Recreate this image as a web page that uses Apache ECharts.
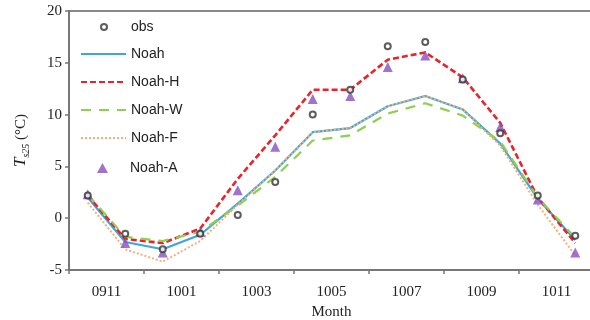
<!DOCTYPE html>
<html>
<head>
<meta charset="utf-8">
<script src="https://cdn.jsdelivr.net/npm/echarts@6/dist/echarts.min.js"></script>
<style>html,body{margin:0;padding:0;background:#fff}#c{width:590px;height:320px}</style>
</head>
<body>
<div id="c"></div>
<script>
var months = ['0910','0911','0912','1001','1002','1003','1004','1005','1006','1007','1008','1009','1010','1011'];
var tickLabels = ['0911','1001','1003','1005','1007','1009','1011'];
var obs   = [2.2, -1.5, -3.0, -1.5, 0.3, 3.5, 10.0, 12.4, 16.6, 17.0, 13.4, 8.2, 2.2, -1.7];
var noah  = [2.0, -2.3, -3.0, -1.6, 1.4, 4.6, 8.3, 8.7, 10.8, 11.8, 10.5, 7.2, 1.9, -2.1];
var noahH = [2.2, -2.0, -2.4, -1.0, 3.8, 8.0, 12.4, 12.4, 15.3, 16.0, 13.6, 9.2, 2.0, -2.4];
var noahW = [2.3, -1.8, -2.2, -1.3, 1.2, 4.0, 7.5, 8.0, 10.1, 11.1, 9.9, 7.4, 2.0, -1.9];
var noahF = [1.5, -3.0, -4.2, -2.2, 1.3, 4.6, 8.3, 8.7, 10.8, 11.8, 10.5, 7.0, 1.3, -3.6];
var noahA = [2.3, -2.4, -3.3, -1.3, 2.7, 6.9, 11.5, 11.8, 14.6, 15.7, 13.5, 8.8, 1.8, -3.3];

var serif = '"Liberation Serif", "DejaVu Serif", serif';
var sans = '"Liberation Sans", Arial, sans-serif';
var chart = echarts.init(document.getElementById('c'), null, {renderer: 'canvas'});
var legendText = {fontFamily: sans, fontSize: 14, color: '#222'};
chart.setOption({
  animation: false,
  backgroundColor: '#fff',
  grid: {left: 69, top: 11, width: 525, height: 259, show: true, borderColor: '#8a8a8a', borderWidth: 2,
         backgroundColor: 'transparent', containLabel: false, outerBoundsMode: 'none'},
  legend: [
    {data: ['obs'], orient: 'vertical', left: 100, top: 20, padding: 0, itemWidth: 6, itemHeight: 6,
     textStyle: {fontFamily: sans, fontSize: 14, color: '#222', padding: [0, 0, 0, 19]}},
    {data: ['Noah', 'Noah-H', 'Noah-W', 'Noah-F'], orient: 'vertical', left: 80, top: 47, padding: 0, itemWidth: 45, itemHeight: 14, itemGap: 14,
     itemStyle: {opacity: 0, borderWidth: 0}, textStyle: legendText},
    {data: [{name: 'Noah-A', icon: 'triangle'}], orient: 'vertical', left: 97, top: 161, padding: 0, itemWidth: 11, itemHeight: 10,
     textStyle: {fontFamily: sans, fontSize: 14, color: '#222', padding: [0, 0, 0, 17]}}
  ],
  xAxis: [
    {type: 'category', data: months, boundaryGap: true, show: false},
    {type: 'category', data: tickLabels, boundaryGap: true, position: 'bottom',
     name: 'Month', nameLocation: 'middle', nameGap: 35,
     nameTextStyle: {fontFamily: serif, fontSize: 15, color: '#222'},
     axisLine: {lineStyle: {color: '#777', width: 2}},
     axisTick: {show: true, length: 4, lineStyle: {color: '#777', width: 1.5}},
     axisLabel: {fontFamily: serif, fontSize: 15, color: '#222', margin: 15},
     splitLine: {show: false}}
  ],
  yAxis: {
    type: 'value', min: -5, max: 20, interval: 5,
    name: '{t|T}{s|s25} (°C)', nameLocation: 'middle', nameGap: 38,
    nameTextStyle: {fontFamily: serif, fontSize: 15, color: '#222',
      rich: {
        t: {fontFamily: serif, fontStyle: 'italic', fontSize: 17, color: '#222', lineHeight: 20},
        s: {fontFamily: serif, fontStyle: 'italic', fontSize: 10, color: '#222', lineHeight: 10, verticalAlign: 'bottom'}
      }},
    axisLine: {show: true, lineStyle: {color: '#777', width: 2}},
    axisTick: {show: true, length: 4, lineStyle: {color: '#777', width: 1.5}},
    axisLabel: {fontFamily: serif, fontSize: 15, color: '#222', margin: 7},
    splitLine: {show: false}
  },
  series: [
    {name: 'obs', type: 'scatter', data: obs, symbol: 'emptyCircle', symbolSize: 6, z: 5,
     itemStyle: {color: '#333', borderColor: '#333', borderWidth: 1.5}},
    {name: 'Noah', type: 'line', data: noah, symbol: 'none', z: 2,
     lineStyle: {color: '#3ea6d8', width: 2.2}, itemStyle: {color: '#3ea6d8'}},
    {name: 'Noah-H', type: 'line', data: noahH, symbol: 'none', z: 3,
     lineStyle: {color: '#e8232b', width: 2.6, type: [6, 3]}, itemStyle: {color: '#e8232b'}},
    {name: 'Noah-W', type: 'line', data: noahW, symbol: 'none', z: 3,
     lineStyle: {color: '#8dd04f', width: 2.2, type: [10, 8]}, itemStyle: {color: '#8dd04f'}},
    {name: 'Noah-F', type: 'line', data: noahF, symbol: 'none', z: 3,
     lineStyle: {color: '#f5b07a', width: 2, type: [2, 2]}, itemStyle: {color: '#f5b07a'}},
    {name: 'Noah-A', type: 'scatter', data: noahA, symbol: 'triangle', symbolSize: 10, z: 4,
     itemStyle: {color: '#8a4fc0'}}
  ]
});
</script>
</body>
</html>
